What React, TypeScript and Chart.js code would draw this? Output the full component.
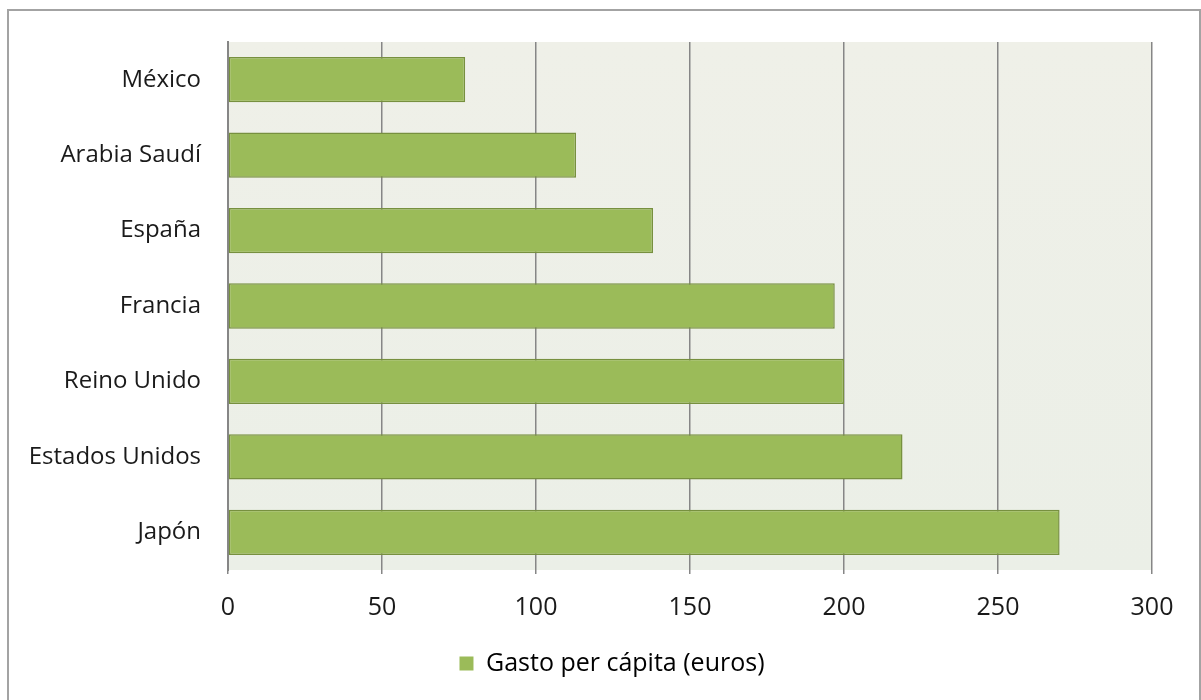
import React, { useEffect, useRef } from "react";
import { Chart, registerables } from "chart.js";

Chart.register(...registerables);

const categories = ["México", "Arabia Saudí", "España", "Francia", "Reino Unido", "Estados Unidos", "Japón"];
const gasto = [77, 113, 138, 197, 200, 219, 270];
const xTicks = [0, 50, 100, 150, 200, 250, 300];
const seriesLabel = "Gasto per cápita (euros)";

const FONT = "'Open Sans', sans-serif";

const plotBg = {
  id: "plotBg",
  beforeDraw(chart: any) {
    const { ctx, chartArea } = chart;
    if (!chartArea) return;
    ctx.save();
    const g = ctx.createLinearGradient(0, chartArea.top, 0, chartArea.bottom);
    g.addColorStop(0, "#eff0e8");
    g.addColorStop(1, "#ebefe7");
    ctx.fillStyle = g;
    ctx.fillRect(chartArea.left, chartArea.top, chartArea.right - chartArea.left, chartArea.bottom - chartArea.top);
    ctx.restore();
  },
};

const legendShift = {
  id: "legendShift",
  afterLayout(chart: any) {
    const lg = chart.legend;
    if (lg) {
      lg.left += 36;
      lg.right += 36;
    }
  },
};

export default function App() {
  const ref = useRef<HTMLCanvasElement | null>(null);
  useEffect(() => {
    if (!ref.current) return;
    const chart = new Chart(ref.current, {
      type: "bar",
      data: {
        labels: categories,
        datasets: [
          {
            label: seriesLabel,
            data: gasto,
            backgroundColor: "#9bbb59",
            borderColor: "#77903f",
            borderWidth: 1.5,
            borderSkipped: false,
            barPercentage: 0.6,
            categoryPercentage: 1,
          },
        ],
      },
      plugins: [plotBg, legendShift],
      options: {
        indexAxis: "y",
        animation: false,
        responsive: false,
        maintainAspectRatio: false,
        layout: { padding: { top: 42, left: 0, right: 49, bottom: 14 } },
        plugins: {
          tooltip: { enabled: false },
          legend: {
            position: "bottom",
            labels: {
              boxWidth: 14,
              boxHeight: 14,
              color: "#1a1a1a",
              font: { family: FONT, size: 25 },
              padding: 10,
              generateLabels: () => [
                {
                  text: seriesLabel,
                  fillStyle: "#9bbb59",
                  strokeStyle: "#9bbb59",
                  lineWidth: 0,
                  datasetIndex: 0,
                  hidden: false,
                },
              ],
            },
          },
        },
        scales: {
          x: {
            min: 0,
            max: 300,
            afterBuildTicks: (s: any) => {
              s.ticks = xTicks.map((v) => ({ value: v }));
            },
            afterFit: (s: any) => {
              s.height = 71;
            },
            grid: { color: "#868686", lineWidth: 1.5, drawTicks: true, tickLength: 4 },
            border: { display: false },
            ticks: { color: "#1a1a1a", font: { family: FONT, size: 25 }, padding: 19 },
          },
          y: {
            afterFit: (s: any) => {
              s.width = 228;
            },
            grid: { display: false, drawTicks: false },
            border: { display: true, color: "#868686", width: 2 },
            ticks: { color: "#1a1a1a", font: { family: FONT, size: 24 }, padding: 27 },
          },
        },
      },
    });
    return () => chart.destroy();
  }, []);
  return (
    <div style={{ position: "absolute", left: 0, top: 0, width: 1201, height: 700, background: "#fff", overflow: "hidden" }}>
      <div style={{ position: "absolute", left: 7, top: 9, width: 1190, height: 720, border: "2px solid #a3a3a3" }} />
      <canvas ref={ref} width={1201} height={700} style={{ position: "absolute", left: 0, top: 0 }} />
    </div>
  );
}
